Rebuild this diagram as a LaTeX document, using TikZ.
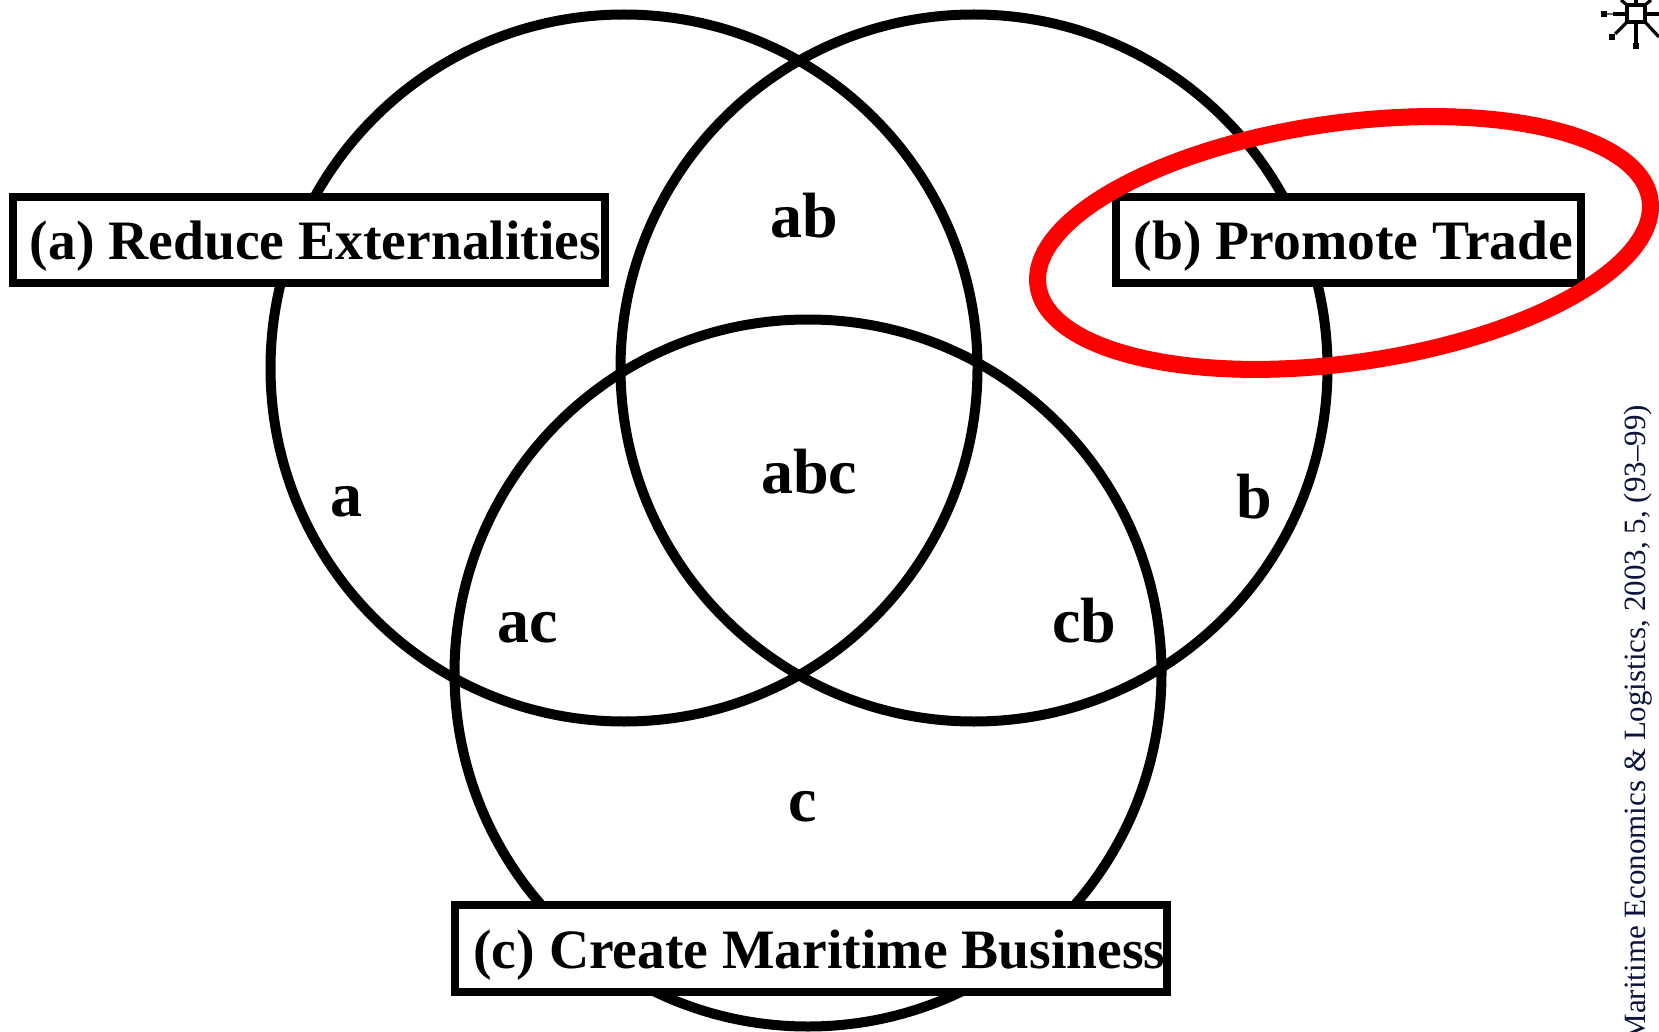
\documentclass[tikz,border=0pt]{standalone}
\usepackage{fontspec}
\setmainfont{Liberation Serif}
\tikzset{
  x=1pt,y=-1pt,
  ring/.style={draw=black,line width=10pt,fill=none},
  labelbox/.style={draw=black,line width=8pt,fill=white,inner sep=0pt,text height=46pt,text depth=6pt,font=\fontsize{55.6}{56}\selectfont\bfseries},
  region/.style={font=\fontsize{64}{64}\selectfont\bfseries,inner sep=0pt},
  redring/.style={draw={rgb,255:red,255;green,0;blue,0},line width=17pt,fill=none},
  hub/.style={draw=black,line width=4.5pt},
  stub/.style={draw=black,line width=3.2pt},
  pin/.style={fill=black,inner sep=0pt,minimum size=6pt,draw=none}
}
\begin{document}
\begin{tikzpicture}
\useasboundingbox (0,0) rectangle (1659,1032);
\fill[white] (0,0) rectangle (1659,1032);
\draw[ring] (624,368) circle[radius=353.5];
\draw[ring] (974,368) circle[radius=353.5];
\draw[ring] (808,673) circle[radius=353.5];
\node[labelbox,minimum width=592pt,minimum height=86pt] (a) at (309,240) {\hspace*{13pt}(a) Reduce Externalities};
\node[labelbox,minimum width=465pt,minimum height=86pt] (b) at (1348,240) {\hspace*{11pt}(b) Promote Trade};
\node[labelbox,minimum width=712pt,minimum height=87pt] (c) at (811,948) {\hspace*{17pt}(c) Create Maritime Business};
\node[region] (lab) at (804,216) {ab};
\node[region] (labc) at (809,472) {abc};
\node[region] (la) at (346,502) {a};
\node[region] (lb) at (1254,497) {b};
\node[region] (lac) at (528,628) {ac};
\node[region] (lcb) at (1084,621) {cb};
\node[region] (lc) at (803,807) {c};
\draw[redring,rotate around={8:(1344,243)}] (1344,243) ellipse[x radius=309,y radius=120];
\node[rotate=90,anchor=east,inner sep=0pt,font=\fontsize{31}{31}\selectfont,text={rgb,255:red,10;green,20;blue,60}] (side) at (1638,405) {Maritime Economics \& Logistics, 2003, 5, (93--99)};
\draw[hub] (1627,5) rectangle (1645,22);
\coordinate (hl) at (1627,14); \coordinate (hr) at (1645,14);
\coordinate (hb) at (1636,22); \coordinate (hbl) at (1627,22); \coordinate (hbr) at (1645,22);
\node[pin] (p1) at (1604,14) {};
\node[pin] (p2) at (1612,37) {};
\node[pin] (p3) at (1636,46) {};
\draw[stub] (hl) -- (1613,14);
\draw[line width=1.2pt,black!60] (1613,14) -- (p1);
\draw[stub] (hbl) -- (p2);
\draw[stub] (hb) -- (p3);
\draw[stub] (hbr) -- (1659,37);
\draw[stub] (hr) -- (1659,14);
\draw[stub] (1627,5) -- (1621,0);
\draw[stub] (1645,5) -- (1651,0);
\draw[stub] (1636,5) -- (1636,0);
\end{tikzpicture}
\end{document}
